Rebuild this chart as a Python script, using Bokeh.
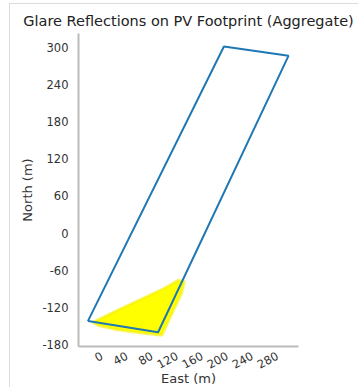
from bokeh.plotting import figure
from bokeh.models import FixedTicker, Range1d, PrintfTickFormatter
from bokeh.embed import file_html
from bokeh.resources import INLINE

# PV footprint outline (East, North in m)
footprint_east = [-22, 90, 298, 195, -22]
footprint_north = [-142, -160, 286, 301, -142]

# Glare reflection area (aggregate), approximate outline
glare_east = [-14, 20, 60, 100, 122, 132, 127, 112, 96, 60, 20, -5]
glare_north = [-144, -127, -108, -89, -76, -78, -98, -130, -165, -161, -155, -149]

x_ticks = [0, 40, 80, 120, 160, 200, 240, 280]
y_ticks = [-180, -120, -60, 0, 60, 120, 180, 240, 300]

FONT = "DejaVu Sans"

p = figure(width=349, height=384, output_backend="svg", toolbar_location=None,
           x_range=Range1d(-37, 314), y_range=Range1d(-183, 322),
           title="Glare Reflections on PV Footprint (Aggregate)",
           x_axis_label="East (m)", y_axis_label="North (m)",
           min_border_left=68, min_border_right=61, min_border_top=29, min_border_bottom=20)
p.styles = {"margin-left": "9px", "margin-top": "3px",
            "border-left": "1px solid #dcdcdc", "border-top": "1px solid #dcdcdc"}

p.title.align = "center"
p.title.text_font = FONT
p.title.text_font_size = "14.5px"
p.title.text_font_style = "normal"
p.title.text_color = "#222222"

p.grid.visible = False
p.outline_line_color = None

for ax in (p.xaxis, p.yaxis):
    ax.axis_line_color = "#bbbbbb"
    ax.axis_line_width = 2
    ax.major_tick_line_color = None
    ax.minor_tick_line_color = None
    ax.major_tick_out = 0
    ax.major_tick_in = 0
    ax.minor_tick_out = 0
    ax.major_label_text_font = FONT
    ax.major_label_text_font_size = "11.5px"
    ax.major_label_text_color = "#333333"
    ax.axis_label_text_font = FONT
    ax.axis_label_text_font_size = "13px"
    ax.axis_label_text_font_style = "normal"
    ax.axis_label_text_color = "#333333"
    ax.formatter = PrintfTickFormatter(format="%d")

p.xaxis.ticker = FixedTicker(ticks=x_ticks)
p.yaxis.ticker = FixedTicker(ticks=y_ticks)
p.xaxis.major_label_orientation = 0.5
p.yaxis.major_label_standoff = 10
p.xaxis.major_label_standoff = 8
p.xaxis.axis_label_standoff = -5
p.yaxis.axis_label_standoff = 4

p.patch(glare_east, glare_north, fill_color="#ffff00", line_color="#f5f000", line_width=3, line_alpha=0.6)
p.line(footprint_east, footprint_north, line_color="#1f77b4", line_width=2)

open("out.html", "w").write(file_html(p, INLINE))
